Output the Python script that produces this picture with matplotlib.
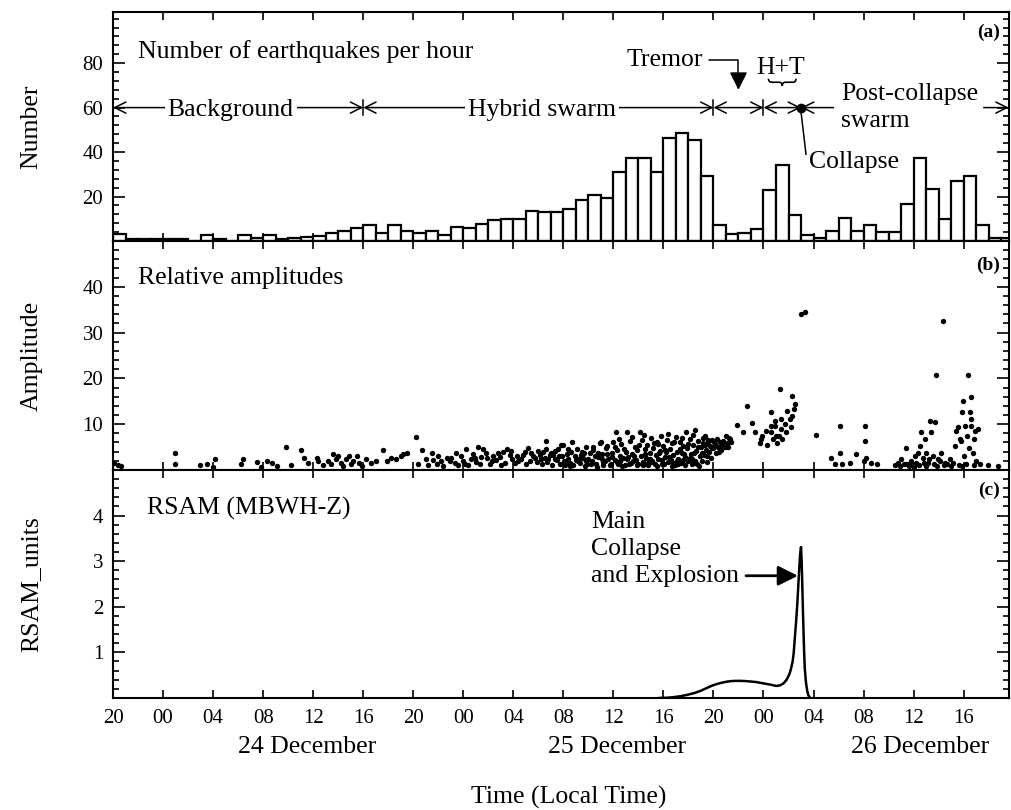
import matplotlib.pyplot as plt
from matplotlib.ticker import FixedLocator, MultipleLocator
from matplotlib.path import Path
from matplotlib.patches import PathPatch

plt.rcParams['font.family'] = ['Liberation Serif', 'DejaVu Serif']

# hours counted from 20:00 local time, 23 December
hour_bins = list(range(72))
eq_per_hour = [3.2, 1.0, 1.0, 1.0, 1.0, 1.0, 0.0, 2.5, 1.1, 0.0,
               2.5, 1.2, 2.6, 0.8, 1.2, 2.0, 2.3, 3.8, 4.7, 5.8,
               7.0, 3.8, 7.0, 4.3, 3.6, 4.6, 2.8, 6.5, 6.0, 7.5,
               9.4, 9.7, 9.8, 13.4, 13.2, 13.2, 14.6, 18.3, 20.5, 19.5,
               31.0, 37.5, 37.5, 31.0, 46.2, 48.4, 45.2, 29.4, 7.0, 3.2,
               3.8, 5.2, 22.9, 34.0, 11.8, 2.5, 1.4, 4.6, 10.2, 4.3,
               7.3, 3.9, 3.9, 16.6, 37.3, 23.2, 9.7, 27.1, 29.3, 7.2,
               1.5, 1.5]

# relative amplitudes as (hour, amplitude)
background_pts = [
    (0.1, 1.5), (0.4, 1.0), (0.6, 0.8), (4.96, 3.8), (4.96, 1.2), (6.97, 1.0),
    (7.5, 1.2), (8.0, 0.7), (8.17, 2.3), (10.2, 1.2), (10.4, 2.3), (11.5, 1.7),
    (11.8, 0.7), (12.3, 1.9), (12.7, 1.5), (13.1, 0.9), (13.8, 5.1), (14.2, 1.1),
    (15.0, 4.4), (15.3, 2.7), (15.6, 1.6), (16.3, 2.7), (16.4, 2.0), (16.8, 1.0),
    (17.2, 2.0), (17.4, 1.3), (17.6, 3.4), (17.8, 2.3), (18.0, 3.0), (18.2, 1.6),
    (18.4, 0.9), (18.6, 2.3), (18.9, 3.0), (19.0, 1.2), (19.2, 2.0), (19.5, 3.1),
    (19.7, 1.5), (19.9, 0.8),
]
hybrid_pts = [
    (20.2, 2.3), (20.6, 1.5), (21.0, 2.0), (21.6, 4.4), (21.9, 2.0), (22.2, 2.7),
    (22.6, 2.3), (23.0, 3.0), (23.2, 3.4), (23.5, 3.7), (24.2, 7.2), (24.4, 1.2),
    (24.7, 4.4), (25.0, 2.3), (25.2, 1.0), (25.5, 3.7), (25.6, 2.2), (25.9, 1.4),
    (26.0, 3.1), (26.2, 2.0), (26.4, 0.9), (26.7, 2.7), (26.9, 1.9), (27.0, 2.6),
    (27.3, 1.6), (27.4, 3.6), (27.6, 1.1), (27.8, 3.0), (28.0, 2.0), (28.1, 1.4),
    (28.2, 4.6), (28.4, 1.0), (28.6, 2.3), (28.8, 3.4), (28.9, 2.6), (29.0, 1.8),
    (29.2, 5.1), (29.3, 1.2), (29.4, 2.9), (29.6, 4.5), (29.8, 3.6), (29.9, 2.7),
    (30.1, 1.3), (30.3, 1.9), (30.4, 3.0), (30.6, 2.2), (30.8, 3.7), (30.9, 2.9),
    (31.0, 1.1), (31.2, 4.0), (31.3, 1.5), (31.5, 4.6), (31.7, 3.2), (31.8, 4.1),
    (31.9, 2.3), (32.1, 1.6), (32.3, 3.0), (32.4, 2.0), (32.6, 2.4), (32.8, 3.3),
    (32.9, 4.0), (33.0, 1.2), (33.2, 4.8), (33.3, 1.9), (33.4, 3.6), (33.6, 3.0),
    (33.7, 2.6), (33.9, 1.8), (34.0, 4.1), (34.1, 3.2), (34.2, 2.3), (34.3, 1.2),
    (34.4, 4.0), (34.5, 2.6), (34.6, 6.3), (34.6, 4.5), (34.7, 1.8), (34.8, 2.4),
    (34.9, 3.3), (35.0, 3.7), (35.1, 1.0), (35.2, 3.2), (35.3, 4.2), (35.3, 2.3),
    (35.5, 2.1), (35.6, 4.6), (35.65, 3.0), (35.7, 1.4), (35.8, 5.5), (35.9, 3.0),
    (36.0, 5.4), (36.05, 2.0), (36.1, 1.0), (36.2, 1.6), (36.3, 3.4), (36.35, 4.5),
    (36.4, 2.5), (36.5, 0.8), (36.55, 1.5), (36.6, 3.9), (36.7, 6.0), (36.8, 1.1),
    (36.9, 3.0), (37.0, 2.2), (37.1, 4.6), (37.2, 1.9), (37.25, 2.5), (37.3, 1.5),
    (37.4, 3.2), (37.5, 4.0), (37.6, 2.7), (37.65, 3.6), (37.7, 0.9), (37.8, 5.0),
    (37.85, 1.9), (37.9, 1.3), (38.0, 2.4), (38.1, 3.6), (38.2, 1.4), (38.3, 2.0),
    (38.35, 5.0), (38.4, 4.4), (38.5, 3.1), (38.6, 1.2), (38.7, 0.7), (38.75, 3.8),
    (38.8, 2.9), (38.9, 5.8), (39.0, 6.0), (39.05, 2.5), (39.1, 3.4), (39.15, 1.1),
    (39.2, 1.7), (39.3, 2.0), (39.4, 4.9), (39.45, 3.5), (39.5, 5.2), (39.6, 2.4),
    (39.7, 1.0), (39.8, 1.3), (39.85, 2.8), (39.9, 3.8), (40.0, 6.2), (40.1, 2.1),
    (40.15, 5.0), (40.2, 8.3), (40.25, 1.7), (40.3, 4.4), (40.4, 1.4), (40.45, 6.8),
    (40.5, 3.1), (40.55, 2.0), (40.6, 5.6), (40.7, 0.9), (40.8, 2.6), (40.85, 4.6),
    (40.9, 1.1), (41.0, 4.0), (41.05, 2.4), (41.1, 8.2), (41.2, 2.9), (41.25, 1.2),
    (41.3, 6.3), (41.4, 1.6), (41.45, 7.1), (41.5, 3.5), (41.6, 1.9), (41.65, 3.0),
    (41.7, 5.0), (41.8, 2.2), (41.85, 1.0), (41.9, 4.3), (42.0, 1.2), (42.05, 5.4),
    (42.1, 8.3), (42.2, 3.0), (42.3, 6.6), (42.35, 1.1), (42.4, 1.8), (42.45, 7.6),
    (42.5, 4.6), (42.55, 3.4), (42.6, 2.6), (42.7, 5.4), (42.75, 1.5), (42.8, 1.0),
    (42.9, 3.6), (42.95, 2.5), (43.0, 7.0), (43.05, 1.7), (43.1, 2.0), (43.2, 4.9),
    (43.25, 5.8), (43.3, 1.4), (43.4, 3.2), (43.45, 0.8), (43.5, 6.0), (43.55, 5.6),
    (43.6, 2.4), (43.65, 3.6), (43.7, 4.1), (43.8, 7.4), (43.85, 2.1), (43.9, 1.2),
    (44.0, 5.2), (44.05, 1.3), (44.1, 2.8), (44.15, 4.4), (44.2, 3.9), (44.3, 6.5),
    (44.35, 7.9), (44.4, 1.7), (44.45, 2.9), (44.5, 4.5), (44.6, 2.2), (44.65, 0.9),
    (44.7, 5.8), (44.75, 1.6), (44.8, 3.3), (44.85, 6.1), (44.9, 1.0), (45.0, 7.3),
    (45.05, 2.0), (45.1, 4.0), (45.15, 1.2), (45.2, 2.5), (45.3, 6.1), (45.35, 4.6),
    (45.4, 1.5), (45.45, 6.9), (45.5, 3.7), (45.55, 2.1), (45.6, 5.3), (45.65, 3.4),
    (45.7, 2.9), (45.75, 1.0), (45.8, 8.2), (45.9, 4.7), (45.95, 5.6), (46.0, 1.9),
    (46.1, 6.7), (46.15, 2.6), (46.2, 3.4), (46.25, 1.4), (46.3, 2.3), (46.35, 7.6),
    (46.4, 5.5), (46.45, 3.8), (46.5, 8.8), (46.55, 2.0), (46.6, 4.2), (46.7, 1.3),
    (46.75, 5.0), (46.8, 6.4), (46.85, 0.9), (46.9, 3.0), (47.0, 5.0), (47.05, 3.6),
    (47.1, 2.0), (47.15, 5.8), (47.2, 7.0), (47.25, 3.2), (47.3, 7.4), (47.35, 5.4),
    (47.4, 4.4), (47.45, 1.8), (47.5, 3.0), (47.55, 6.6), (47.6, 6.0), (47.65, 4.0),
    (47.7, 5.2), (47.8, 2.6), (47.85, 4.8), (47.9, 6.5),
]
tremor_pts = [
    (48.0, 4.8), (48.05, 6.1), (48.1, 5.6), (48.2, 3.6), (48.3, 6.7), (48.4, 5.0),
    (48.45, 4.0), (48.5, 6.0), (48.6, 4.4), (48.7, 5.4), (48.8, 6.3), (48.9, 5.1),
    (49.0, 7.4), (49.1, 5.8), (49.2, 5.0), (49.25, 7.0), (49.3, 6.7), (49.4, 6.0),
    (49.9, 9.8), (50.4, 8.3), (50.7, 13.9), (51.1, 10.2), (51.3, 8.3), (51.7, 5.9),
    (51.8, 6.7), (51.9, 7.4), (52.2, 8.5), (52.3, 5.4), (52.6, 12.6), (52.6, 8.2),
    (52.6, 9.6), (52.8, 6.7), (52.9, 10.8), (52.9, 9.6), (53.0, 7.4), (53.1, 5.9),
    (53.2, 7.4), (53.3, 17.7), (53.4, 8.9), (53.4, 11.1), (53.5, 6.7), (53.7, 10.0),
    (53.8, 8.2), (53.9, 12.9), (54.1, 11.1), (54.2, 9.3), (54.3, 16.2), (54.3, 11.8),
    (54.4, 13.3), (54.5, 14.4), (55.0, 34.0), (55.3, 34.5),
]
post_pts = [
    (56.2, 7.6), (57.4, 2.7), (57.7, 1.2), (58.1, 9.6), (58.1, 3.8), (58.3, 1.2),
    (58.9, 1.6), (59.4, 3.4), (60.0, 1.9), (60.1, 9.6), (60.1, 6.3), (60.2, 2.7),
    (60.6, 1.6), (61.1, 1.2), (62.5, 1.0), (62.75, 1.6), (62.9, 0.8), (63.0, 2.3),
    (63.2, 1.4), (63.4, 4.9), (63.5, 1.2), (63.6, 0.9), (63.8, 1.9), (63.9, 1.2),
    (64.0, 0.7), (64.1, 3.0), (64.2, 1.6), (64.35, 3.8), (64.4, 1.1), (64.5, 5.2),
    (64.6, 8.2), (64.75, 2.7), (64.8, 1.5), (64.9, 6.7), (65.0, 3.8), (65.0, 0.9),
    (65.15, 1.6), (65.2, 2.4), (65.3, 10.7), (65.4, 8.2), (65.55, 3.0), (65.6, 1.2),
    (65.7, 10.4), (65.8, 20.8), (65.9, 0.9), (65.95, 2.3), (66.1, 1.9), (66.2, 3.8),
    (66.35, 32.5), (66.4, 1.0), (66.5, 1.6), (66.7, 1.3), (66.9, 2.3), (67.0, 0.8),
    (67.15, 1.6), (67.3, 5.2), (67.4, 8.5), (67.55, 9.3), (67.6, 1.1), (67.7, 6.7),
    (67.8, 6.3), (67.9, 12.6), (67.9, 0.9), (67.95, 15.1), (68.0, 3.0), (68.1, 9.6),
    (68.2, 1.4), (68.3, 7.4), (68.35, 20.8), (68.4, 4.9), (68.5, 12.6), (68.6, 9.6),
    (68.6, 15.9), (68.6, 11.1), (68.75, 3.8), (68.8, 6.7), (68.8, 1.0), (68.9, 8.5),
    (69.0, 1.9), (69.15, 8.9), (69.3, 1.2), (69.95, 1.0), (70.75, 0.8),
]

# RSAM trace at station MBWH-Z
rsam_hours = [43.66, 44.3, 44.86, 45.4, 45.93, 46.5, 47.0, 47.4, 47.8, 48.2,
              48.6, 49.0, 49.4, 49.8, 50.2, 50.6, 51.0, 51.4, 51.8, 52.2,
              52.6, 52.9, 53.1, 53.35, 53.6, 53.85, 54.07, 54.2, 54.33, 54.42,
              54.5, 54.6, 54.7, 54.78, 54.86, 54.93, 55.0, 55.05, 55.1, 55.15,
              55.2, 55.25, 55.3, 55.4, 55.5, 55.6, 55.75]
rsam_units = [0.0, 0.005, 0.02, 0.04, 0.07, 0.11, 0.16, 0.21, 0.26, 0.3,
              0.33, 0.355, 0.37, 0.375, 0.375, 0.37, 0.36, 0.35, 0.33, 0.31,
              0.29, 0.27, 0.265, 0.28, 0.32, 0.4, 0.52, 0.64, 0.8, 1.0,
              1.3, 1.65, 2.05, 2.45, 2.85, 3.15, 3.31, 3.0, 2.5, 1.95,
              1.45, 1.0, 0.65, 0.33, 0.15, 0.05, 0.0]

tick_hours = list(range(0, 72, 4))
tick_labels = ['20', '00', '04', '08', '12', '16'] * 3
day_labels = ['24 December', '25 December', '26 December']
day_hours = [15.5, 40.3, 64.5]

BIG = 18.5


def style_axes(ax, major, minor, ylim):
    ax.set_xlim(0, 71.6)
    ax.set_ylim(*ylim)
    ax.xaxis.set_major_locator(FixedLocator(tick_hours))
    ax.yaxis.set_major_locator(FixedLocator(major))
    ax.yaxis.set_minor_locator(MultipleLocator(minor))
    ax.tick_params(which='both', direction='in', top=True, right=True, width=1.2)
    ax.tick_params(axis='y', which='major', length=8.5, labelsize=15, pad=7)
    ax.tick_params(axis='y', which='minor', length=4.5)
    ax.tick_params(axis='x', which='major', length=5.5, labelsize=15, pad=8)
    for s in ax.spines.values():
        s.set_linewidth(1.5)


def brace(ax, x0, x1, ytop, depth):
    xm = (x0 + x1) / 2
    q = (x1 - x0) * 0.12
    ymid = ytop - depth / 2
    verts = [(x0, ytop), (x0, ymid), (x0 + q, ymid),
             (xm - q, ymid), (xm, ymid), (xm, ytop - depth),
             (xm, ymid), (xm + q, ymid),
             (x1 - q, ymid), (x1, ymid), (x1, ytop)]
    codes = [Path.MOVETO, Path.CURVE3, Path.CURVE3,
             Path.LINETO, Path.CURVE3, Path.CURVE3,
             Path.CURVE3, Path.CURVE3,
             Path.LINETO, Path.CURVE3, Path.CURVE3]
    ax.add_patch(PathPatch(Path(verts, codes), fill=False, lw=1.2))


fig = plt.figure(figsize=(10.12, 8.10), dpi=100)
ax_a = fig.add_axes([0.1117, 0.7025, 0.885, 0.2827])
ax_b = fig.add_axes([0.1117, 0.4198, 0.885, 0.2827])
ax_c = fig.add_axes([0.1117, 0.1383, 0.885, 0.2815])

# (a) hourly counts
ax_a.bar(hour_bins, eq_per_hour, width=1, align='edge', facecolor='white',
         edgecolor='black', linewidth=1.6)
style_axes(ax_a, [20, 40, 60, 80], 4, (0, 103))
ax_a.set_ylabel('Number', fontsize=BIG)
ax_a.text(0.028, 0.826, 'Number of earthquakes per hour', transform=ax_a.transAxes,
          fontsize=BIG, va='center')
ax_a.text(0.99, 0.91, '(a)', transform=ax_a.transAxes, ha='right', va='center',
          fontsize=14, fontweight='bold')

row = 60
arrow_kw = dict(arrowstyle='<->,head_length=0.5,head_width=0.25', lw=1.1,
                color='black', shrinkA=0, shrinkB=0, mutation_scale=16)
for x0, x1 in [(0, 20), (20, 48), (48, 52), (52, 55)]:
    ax_a.annotate('', xy=(x1, row), xytext=(x0, row), arrowprops=arrow_kw)
for xs in [20, 48, 52]:
    ax_a.plot([xs, xs], [row - 3.5, row + 3.5], color='black', lw=1.1)
one_way = dict(arrow_kw, arrowstyle='->,head_length=0.5,head_width=0.25')
ax_a.annotate('', xy=(55, row), xytext=(57.6, row), arrowprops=one_way)
ax_a.annotate('', xy=(71.6, row), xytext=(69.6, row), arrowprops=one_way)

white = dict(boxstyle='square,pad=0.12', fc='white', ec='none')
ax_a.text(9.4, row, 'Background', ha='center', va='center_baseline',
          fontsize=BIG, bbox=white)
ax_a.text(34.3, row, 'Hybrid swarm', ha='center', va='center_baseline',
          fontsize=BIG, bbox=white)
ax_a.text(58.2, row, 'Post-collapse\nswarm', ha='left', va='center',
          fontsize=BIG, linespacing=1.3)

ax_a.annotate('Tremor', xy=(50.0, 68), xytext=(47.2, 81.6), ha='right',
              va='center', fontsize=BIG,
              arrowprops=dict(arrowstyle='-|>,head_length=0.6,head_width=0.3',
                              connectionstyle='angle,angleA=0,angleB=90,rad=0',
                              shrinkA=2, shrinkB=0, lw=1.1, color='black',
                              mutation_scale=18))
ax_a.text(53.4, 78, 'H+T', ha='center', va='center', fontsize=BIG)
brace(ax_a, 52.4, 54.6, 73, 3.2)
ax_a.plot([55], [row], 'o', color='black', ms=6)
ax_a.plot([55.0, 55.4], [58, 39], color='black', lw=1.1)
ax_a.text(55.65, 35.7, 'Collapse', ha='left', va='center', fontsize=BIG)

# (b) relative amplitudes
for pts in [background_pts, hybrid_pts, tremor_pts, post_pts]:
    ax_b.scatter([p[0] for p in pts], [p[1] for p in pts], s=15, c='black',
                 linewidths=0)
style_axes(ax_b, [10, 20, 30, 40], 2, (0, 50))
ax_b.set_ylabel('Amplitude', fontsize=BIG)
ax_b.text(0.028, 0.838, 'Relative amplitudes', transform=ax_b.transAxes,
          fontsize=BIG, va='center')
ax_b.text(0.99, 0.895, '(b)', transform=ax_b.transAxes, ha='right', va='center',
          fontsize=14, fontweight='bold')

# (c) RSAM
ax_c.plot(rsam_hours, rsam_units, color='black', lw=1.8)
style_axes(ax_c, [1, 2, 3, 4], 0.2, (0, 5))
ax_c.set_ylabel('RSAM_units', fontsize=BIG)
ax_c.text(0.038, 0.833, 'RSAM (MBWH-Z)', transform=ax_c.transAxes,
          fontsize=BIG, va='center')
ax_c.text(0.99, 0.912, '(c)', transform=ax_c.transAxes, ha='right', va='center',
          fontsize=14, fontweight='bold')
ax_c.text(38.2, 3.27, 'Main\nCollapse\nand Explosion', ha='left', va='center',
          fontsize=BIG, linespacing=1.28)
ax_c.annotate('', xy=(54.75, 2.68), xytext=(50.6, 2.68),
              arrowprops=dict(arrowstyle='-|>,head_length=0.6,head_width=0.3',
                              lw=2, color='black', shrinkA=0, shrinkB=0,
                              mutation_scale=20))

for ax in (ax_a, ax_b):
    ax.tick_params(axis='x', labelbottom=False)
ax_c.set_xticks(tick_hours)
ax_c.set_xticklabels(tick_labels)
for lab, h in zip(day_labels, day_hours):
    ax_c.text(h, -0.214, lab, transform=ax_c.get_xaxis_transform(),
              ha='center', va='center', fontsize=BIG)
fig.text(0.562, 0.015, 'Time (Local Time)', ha='center', va='center', fontsize=BIG)

for ax in (ax_a, ax_b, ax_c):
    ax.yaxis.set_label_coords(-0.079, 0.5)

fig.savefig('out.png', dpi=100)
